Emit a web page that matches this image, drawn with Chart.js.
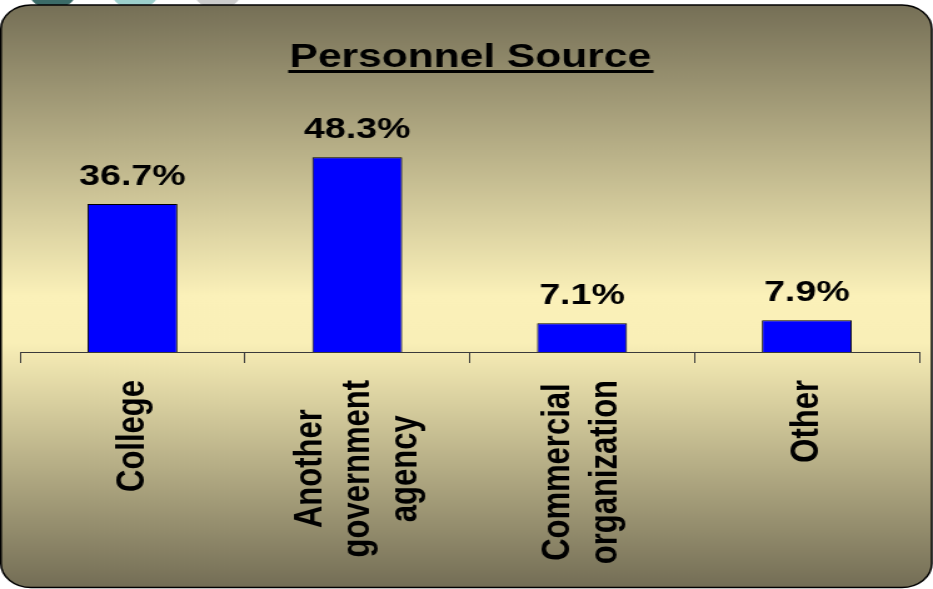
<!DOCTYPE html>
<html>
<head>
<meta charset="utf-8">
<script src="https://cdn.jsdelivr.net/npm/chart.js@4.4.1/dist/chart.umd.min.js"></script>
<style>
  html, body { margin: 0; padding: 0; background: #ffffff; }
  #chart { display: block; width: 933px; height: 589px; }
</style>
</head>
<body>
<canvas id="chart" width="746" height="589" style="width:933px;height:589px"></canvas>
<script>
// chart values
const categories = [['College'], ['Another', 'government', 'agency'], ['Commercial', 'organization'], ['Other']];
const shares = [36.7, 48.3, 7.1, 7.9];
const titleText = 'Personnel Source';
const tabColors = ['#3b6b68', '#9ccfcc', '#cccccc'];

const FONT = '"Liberation Sans", Arial, sans-serif';

// panel, tabs, title, value labels and category labels
const decorPlugin = {
    id: 'decor',
    beforeDraw(chart) {
        const ctx = chart.ctx;
        const w = chart.width, h = chart.height;
        ctx.save();
        ctx.fillStyle = '#ffffff';
        ctx.fillRect(0, 0, w, h);

        // little tabs peeking above the panel
        [42, 108, 174].forEach((cx, i) => {
            ctx.beginPath();
            ctx.arc(cx, -11, 20, 0, Math.PI * 2);
            ctx.fillStyle = tabColors[i];
            ctx.fill();
        });

        const top = 5, bottom = h - 1.5, left = 0.75, right = w - 1;
        const grad = ctx.createLinearGradient(0, top, 0, bottom);
        grad.addColorStop(0, '#756f56');
        grad.addColorStop(0.5, '#fbf1b9');
        grad.addColorStop(0.58, '#f9efb7');
        grad.addColorStop(1, '#736d55');
        ctx.beginPath();
        ctx.roundRect(left, top, right - left, bottom - top, 24);
        ctx.fillStyle = grad;
        ctx.fill();
        ctx.lineWidth = 1.5;
        ctx.strokeStyle = '#000000';
        ctx.stroke();

        // title with underline
        ctx.font = 'bold 34px ' + FONT;
        ctx.fillStyle = '#000000';
        ctx.textAlign = 'center';
        ctx.textBaseline = 'alphabetic';
        const tx = 376;
        ctx.fillText(titleText, tx, 67);
        const tw = ctx.measureText(titleText).width;
        ctx.fillRect(tx - tw / 2 - 1, 70, tw + 3, 3);
        ctx.restore();
    },
    afterDraw(chart) {
        const ctx = chart.ctx;
        const xScale = chart.scales.x;
        const meta = chart.getDatasetMeta(0);
        ctx.save();
        ctx.fillStyle = '#000000';

        // value labels above bars
        ctx.font = 'bold 30px ' + FONT;
        ctx.textAlign = 'center';
        ctx.textBaseline = 'alphabetic';
        meta.data.forEach((bar, i) => {
            ctx.fillText(shares[i].toFixed(1) + '%', bar.x, bar.y - 19);
        });

        // rotated category labels, lines centred on each other
        ctx.font = 'bold 31px ' + FONT;
        const labelTop = chart.chartArea.bottom + 28;
        categories.forEach((lines, i) => {
            const x = xScale.getPixelForValue(i);
            const longest = Math.max(...lines.map(l => ctx.measureText(l).width));
            const cy = labelTop + longest / 2;
            ctx.save();
            ctx.translate(x, cy);
            ctx.rotate(-Math.PI / 2);
            lines.forEach((line, j) => {
                const off = (j - (lines.length - 1) / 2) * 38;
                ctx.fillText(line, 0, off + 9);
            });
            ctx.restore();
        });
        ctx.restore();
    }
};

new Chart(document.getElementById('chart'), {
    type: 'bar',
    data: {
        labels: categories,
        datasets: [{
            data: shares,
            backgroundColor: '#0000ff',
            borderColor: '#000000',
            borderWidth: 1,
            borderSkipped: 'bottom',
            categoryPercentage: 1,
            barPercentage: 0.4
        }]
    },
    options: {
        responsive: false,
        animation: false,
        devicePixelRatio: 1,
        layout: { padding: { left: 16, right: 11, top: 110, bottom: 0 } },
        plugins: {
            legend: { display: false },
            title: { display: false },
            tooltip: { enabled: false }
        },
        scales: {
            x: {
                grid: {
                    display: true,
                    drawOnChartArea: false,
                    drawTicks: true,
                    tickLength: 11,
                    color: '#3a3a3a',
                    offset: true
                },
                border: { display: true, color: '#3a3a3a', width: 1 },
                ticks: { display: false },
                afterFit(scale) { scale.height = 237; }
            },
            y: {
                display: false,
                min: 0,
                max: 60
            }
        }
    },
    plugins: [decorPlugin]
});
</script>
</body>
</html>
